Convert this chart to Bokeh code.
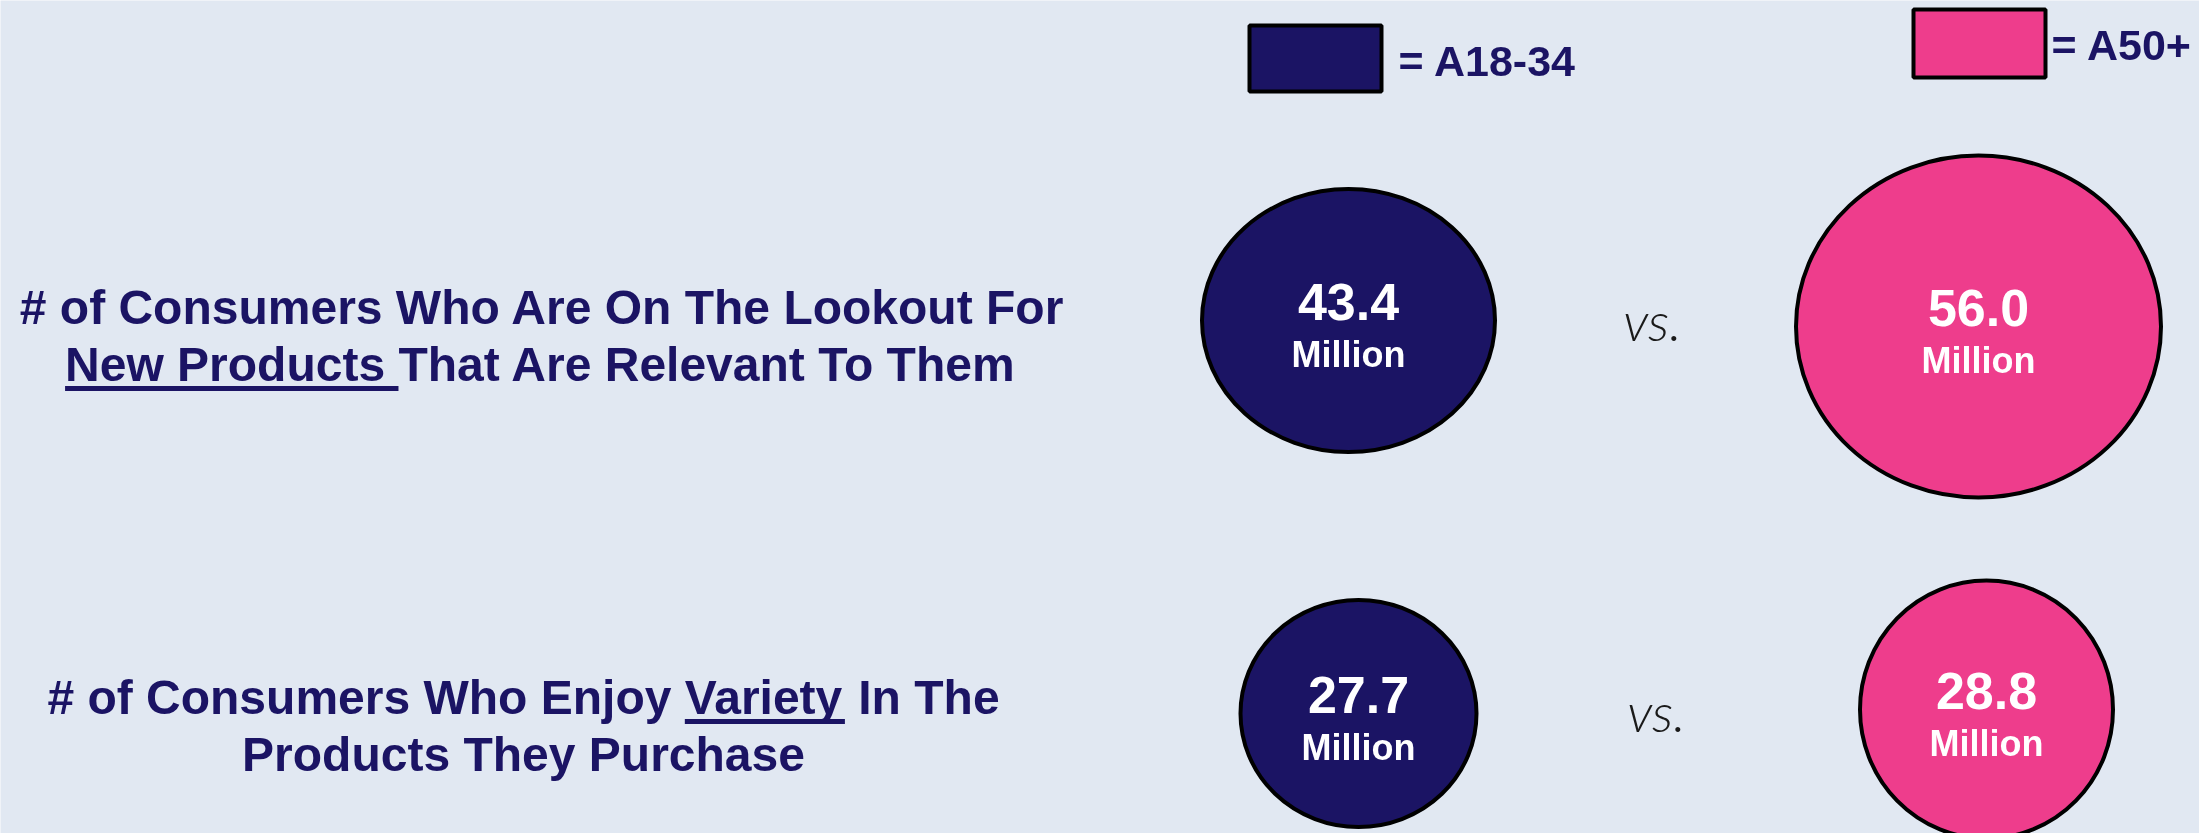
from bokeh.plotting import figure
from bokeh.models import Range1d, ColumnDataSource
from bokeh.core.properties import value
from bokeh.embed import file_html
from bokeh.resources import INLINE

# ---------------- data ----------------
groups = ["A18-34", "A50+"]
legend_labels = ["= A18-34", "= A50+"]
a18_34 = [43.4, 27.7]
a50_plus = [56.0, 28.8]
unit_label = "Million"
compare_word = "vs."
# each question: lines -> segments (text, underlined)
questions = [
    [[("# of Consumers Who Are On The Lookout For", False)],
     [("New Products ", True), ("That Are Relevant To Them", False)]],
    [[("# of Consumers Who Enjoy ", False), ("Variety", True), (" In The", False)],
     [("Products They Purchase", False)]],
]

# ---------------- layout / style ----------------
W, H = 2199, 833
BG = "#E1E8F2"
NAVY = "#1B1464"
PINK = "#EE3D8C"
group_colors = [NAVY, PINK]
FONT = value("Liberation Sans")
BASE_FIX = 0.34  # svg text baseline correction (fraction of font size)

bubble_cx = [[1348, 1978], [1358, 1986]]
bubble_cy = [[320, 326], [713, 709]]
bubble_w = [[293, 365], [236, 253]]
bubble_h = [[263, 342], [227, 258]]
num_dy, unit_dy = -1, 46
NUM_SIZE, UNIT_SIZE = 52, 36
vs_x = [1652, 1656]
vs_y = [338, 729]
VS_SIZE = 54
q_cx = [542, 523]
q_base = [[323, 380], [713, 770]]
Q_SIZE = 48
UL_DY, UL_W = 8, 5
leg_rect = [(1315, 58, 132, 66), (1979, 43, 132, 68)]
leg_text = [(1398, 75), (2051, 59)]
LEG_SIZE = 43

# Arial/Liberation Sans Bold advance widths (per 1000 em)
AW = {' ': 278, '#': 556, '-': 333, '.': 278, '=': 584, '+': 584}
AW.update({d: 556 for d in "0123456789"})
AW.update(dict(zip("ABCDEFGHIJKLMNOPQRSTUVWXYZ",
                   [722, 722, 722, 722, 667, 611, 778, 722, 278, 556, 722, 611, 833,
                    722, 778, 667, 778, 722, 667, 611, 722, 667, 944, 667, 667, 611])))
AW.update(dict(zip("abcdefghijklmnopqrstuvwxyz",
                   [556, 611, 556, 611, 556, 333, 611, 611, 278, 278, 556, 278, 889,
                    611, 611, 611, 611, 389, 556, 333, 611, 556, 778, 556, 556, 500])))


def tw(s, size):
    return sum(AW.get(c, 556) for c in s) * size / 1000.0


def by(y, size):
    return y - BASE_FIX * size


p = figure(width=W, height=H, x_range=Range1d(0, W), y_range=Range1d(H, 0),
           output_backend="svg", toolbar_location=None, min_border=0)
p.styles = {"position": "fixed", "top": "0px", "left": "0px"}
p.axis.visible = False
p.xgrid.visible = False
p.ygrid.visible = False
p.outline_line_color = None
p.background_fill_color = BG
p.border_fill_color = BG

# ---- question texts ----
qt = dict(x=[], y=[], text=[])
ul = dict(x0=[], x1=[], y=[])
for qi, lines in enumerate(questions):
    for li, segs in enumerate(lines):
        total = sum(tw(s, Q_SIZE) for s, _ in segs)
        x = q_cx[qi] - total / 2.0
        base = q_base[qi][li]
        for s, under in segs:
            lead = len(s) - len(s.lstrip(" "))
            qt["x"].append(x + tw(" " * lead, Q_SIZE))
            qt["y"].append(by(base, Q_SIZE))
            qt["text"].append(s.strip())
            w = tw(s, Q_SIZE)
            if under:
                ul["x0"].append(x)
                ul["x1"].append(x + w)
                ul["y"].append(base + UL_DY)
            x += w
p.text(x="x", y="y", text="text", source=ColumnDataSource(qt), text_font=FONT,
       text_font_style="bold", text_font_size=f"{Q_SIZE}px", text_color=NAVY,
       text_align="left", text_baseline="alphabetic")
p.segment(x0="x0", x1="x1", y0="y", y1="y", source=ColumnDataSource(ul),
          line_color=NAVY, line_width=UL_W, line_cap="butt")

# ---- bubbles ----
series = [a18_34, a50_plus]
bub = dict(x=[], y=[], w=[], h=[], c=[], num=[], ny=[], uy=[], unit=[])
for gi, vals in enumerate(series):
    for ri, v in enumerate(vals):
        cy = bubble_cy[ri][gi]
        bub["x"].append(bubble_cx[ri][gi])
        bub["y"].append(cy)
        bub["w"].append(bubble_w[ri][gi])
        bub["h"].append(bubble_h[ri][gi])
        bub["c"].append(group_colors[gi])
        bub["num"].append(f"{v:.1f}")
        bub["ny"].append(by(cy + num_dy, NUM_SIZE))
        bub["uy"].append(by(cy + unit_dy, UNIT_SIZE))
        bub["unit"].append(unit_label)
bsrc = ColumnDataSource(bub)
p.ellipse(x="x", y="y", width="w", height="h", width_units="screen", height_units="screen",
          fill_color="c", line_color="black", line_width=4, source=bsrc)
p.text(x="x", y="ny", text="num", source=bsrc, text_font=FONT, text_font_style="bold",
       text_font_size=f"{NUM_SIZE}px", text_color="white", text_align="center",
       text_baseline="alphabetic")
p.text(x="x", y="uy", text="unit", source=bsrc, text_font=FONT, text_font_style="bold",
       text_font_size=f"{UNIT_SIZE}px", text_color="white", text_align="center",
       text_baseline="alphabetic")

# ---- vs. ----
p.text(x=vs_x, y=[by(v, VS_SIZE) for v in vs_y], text=[compare_word] * len(vs_x),
       text_font=value("Lato Light, Lato"), text_font_style="italic",
       text_font_size=f"{VS_SIZE}px", text_color="#1a1a1a", text_align="center",
       text_baseline="alphabetic")

# ---- legend ----
lg = dict(x=[r[0] for r in leg_rect], y=[r[1] for r in leg_rect],
          w=[r[2] for r in leg_rect], h=[r[3] for r in leg_rect], c=group_colors,
          tx=[t[0] for t in leg_text], ty=[by(t[1], LEG_SIZE) for t in leg_text],
          label=legend_labels)
lsrc = ColumnDataSource(lg)
p.rect(x="x", y="y", width="w", height="h", width_units="screen", height_units="screen",
       fill_color="c", line_color="black", line_width=4, source=lsrc)
p.text(x="tx", y="ty", text="label", source=lsrc, text_font=FONT, text_font_style="bold",
       text_font_size=f"{LEG_SIZE}px", text_color=NAVY, text_align="left",
       text_baseline="alphabetic")

open("out.html", "w").write(file_html(p, INLINE))
